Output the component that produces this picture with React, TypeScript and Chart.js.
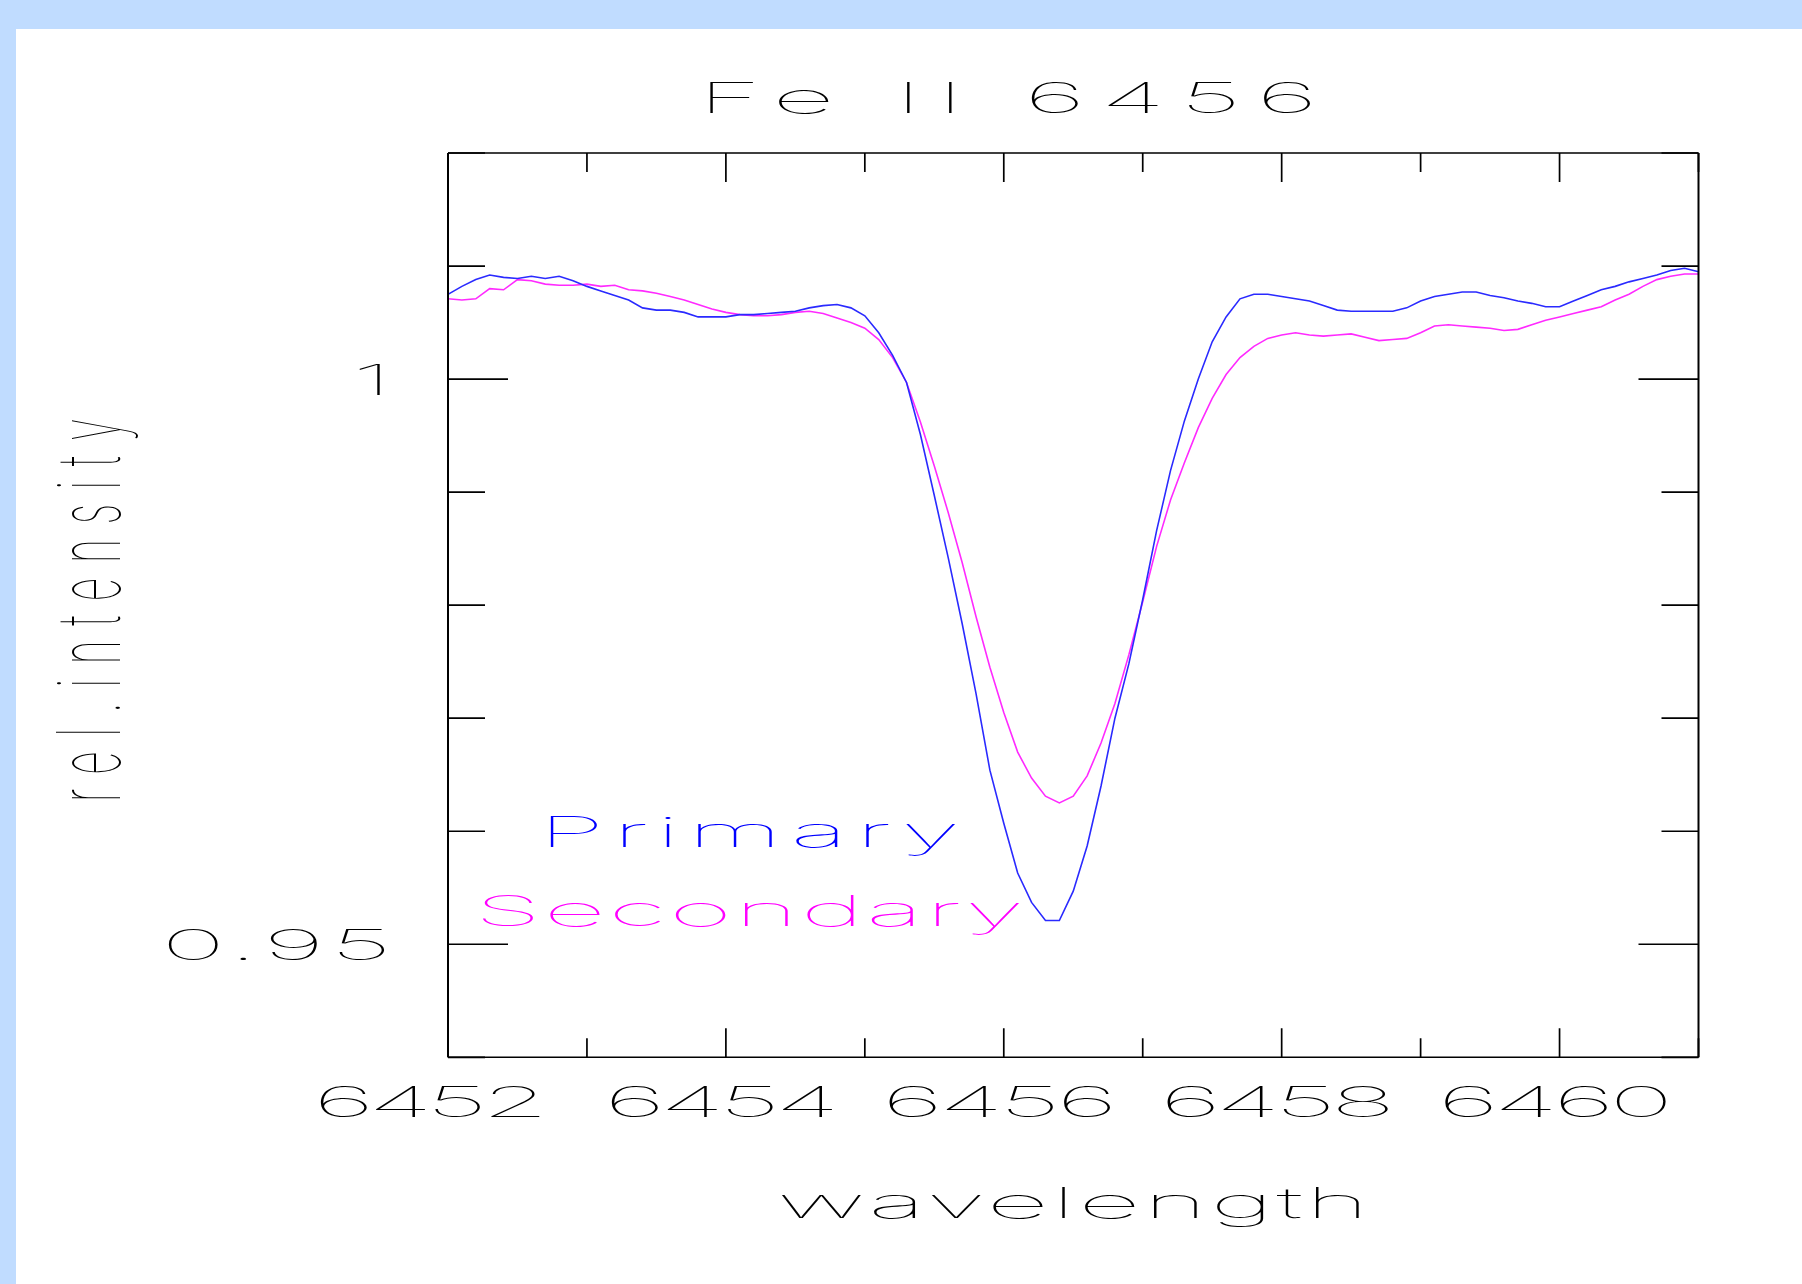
import { useEffect, useRef } from "react";
import { Chart, registerables } from "chart.js";

Chart.register(...registerables);

// ---------- data ----------
const TITLE = "Fe II 6456";
const X_TITLE = "wavelength";
const Y_TITLE = "rel.intensity";

const X_MIN = 6452;
const X_MAX = 6461;
const Y_MIN = 0.94;
const Y_MAX = 1.02;

const X_MAJOR_TICKS = [6452, 6454, 6456, 6458, 6460];
const X_MINOR_TICKS = [6453, 6455, 6457, 6459, 6461];
const Y_MAJOR_TICKS = [0.95, 1.0];
const Y_MINOR_TICKS = [0.94, 0.96, 0.97, 0.98, 0.99, 1.01, 1.02];

const X_TICK_LABELS = ["6452", "6454", "6456", "6458", "6460"];
const Y_TICK_VALUES = [1.0, 0.95];
const Y_TICK_LABELS = ["1", "0.95"];

const WAVELENGTHS = [
  6452.0, 6452.1, 6452.2, 6452.3, 6452.4, 6452.5, 6452.6, 6452.7, 6452.8, 6452.9,
  6453.0, 6453.1, 6453.2, 6453.3, 6453.4, 6453.5, 6453.6, 6453.7, 6453.8, 6453.9,
  6454.0, 6454.1, 6454.2, 6454.3, 6454.4, 6454.5, 6454.6, 6454.7, 6454.8, 6454.9,
  6455.0, 6455.1, 6455.2, 6455.3, 6455.4, 6455.5, 6455.6, 6455.7, 6455.8, 6455.9,
  6456.0, 6456.1, 6456.2, 6456.3, 6456.4, 6456.5, 6456.6, 6456.7, 6456.8, 6456.9,
  6457.0, 6457.1, 6457.2, 6457.3, 6457.4, 6457.5, 6457.6, 6457.7, 6457.8, 6457.9,
  6458.0, 6458.1, 6458.2, 6458.3, 6458.4, 6458.5, 6458.6, 6458.7, 6458.8, 6458.9,
  6459.0, 6459.1, 6459.2, 6459.3, 6459.4, 6459.5, 6459.6, 6459.7, 6459.8, 6459.9,
  6460.0, 6460.1, 6460.2, 6460.3, 6460.4, 6460.5, 6460.6, 6460.7, 6460.8, 6460.9,
  6461.0,
];

const PRIMARY = [
  1.0075, 1.0082, 1.0088, 1.0092, 1.009, 1.0089, 1.0091, 1.0089, 1.0091, 1.0087,
  1.0082, 1.0078, 1.0074, 1.007, 1.0063, 1.0061, 1.0061, 1.0059, 1.0055, 1.0055,
  1.0055, 1.0057, 1.0057, 1.0058, 1.0059, 1.006, 1.0063, 1.0065, 1.0066, 1.0063,
  1.0056, 1.0041, 1.0021, 0.9997, 0.9951, 0.9897, 0.9842, 0.9784, 0.9722, 0.9654,
  0.9607, 0.9563, 0.9537, 0.9521, 0.9521, 0.9547, 0.9587, 0.964, 0.97, 0.9748,
  0.9805, 0.9866, 0.9919, 0.9963, 1.0, 1.0033, 1.0055, 1.0071, 1.0075, 1.0075,
  1.0073, 1.0071, 1.0069, 1.0065, 1.0061, 1.006, 1.006, 1.006, 1.006, 1.0063,
  1.0069, 1.0073, 1.0075, 1.0077, 1.0077, 1.0074, 1.0072, 1.0069, 1.0067, 1.0064,
  1.0064, 1.0069, 1.0074, 1.0079, 1.0082, 1.0086, 1.0089, 1.0092, 1.0096, 1.0098,
  1.0095,
];

const SECONDARY = [
  1.0071, 1.007, 1.0071, 1.008, 1.0079, 1.0088, 1.0087, 1.0084, 1.0083, 1.0083,
  1.0084, 1.0082, 1.0083, 1.0079, 1.0078, 1.0076, 1.0073, 1.007, 1.0066, 1.0062,
  1.0059, 1.0057, 1.0056, 1.0056, 1.0057, 1.0059, 1.006, 1.0058, 1.0054, 1.005,
  1.0045, 1.0035, 1.0019, 0.9997, 0.9962, 0.9923, 0.9882, 0.9838, 0.979, 0.9745,
  0.9705, 0.967, 0.9647, 0.9631, 0.9625, 0.9631, 0.9649, 0.9678, 0.9713, 0.9756,
  0.9803, 0.9852, 0.9893, 0.9926, 0.9957, 0.9983, 1.0004, 1.0019, 1.0029, 1.0036,
  1.0039, 1.0041, 1.0039, 1.0038, 1.0039, 1.004, 1.0037, 1.0034, 1.0035, 1.0036,
  1.0041, 1.0047, 1.0048, 1.0047, 1.0046, 1.0045, 1.0043, 1.0044, 1.0048, 1.0052,
  1.0055, 1.0058, 1.0061, 1.0064, 1.007, 1.0075, 1.0082, 1.0088, 1.0091, 1.0093,
  1.0093,
];

const SERIES_NAMES = ["Primary", "Secondary"];
const SERIES_COLORS = ["#2a2aff", "#ff2aff"];
const LEGEND_COLORS = ["#0000ff", "#ff00ff"];
// legend anchor (data coordinates, centre of text baseline)
const LEGEND_X = 6454.17;
const LEGEND_Y = [0.95862, 0.9516];

// ---------- styling ----------
const SX = 2.6; // horizontal stretch of horizontal lettering
const SX_ROT = 2.1; // stretch of rotated lettering (glyph height direction)
const FONT_SIZE = 42;
const FONT = `120 ${FONT_SIZE}px Inter, "DejaVu Sans Mono", sans-serif`;

function drawText(
  ctx: CanvasRenderingContext2D,
  text: string,
  x: number,
  y: number,
  width: number,
  color: string,
  align: "left" | "center" | "right",
  rotate = false
) {
  ctx.save();
  ctx.translate(x, y);
  const sx = rotate ? SX_ROT : SX;
  ctx.scale(sx, 1);
  if (rotate) ctx.rotate(-Math.PI / 2);
  ctx.font = FONT;
  ctx.fillStyle = color;
  ctx.textBaseline = "alphabetic";
  ctx.textAlign = "left";
  (ctx as any).letterSpacing = "0px";
  const w0 = ctx.measureText(text).width;
  const n = text.length;
  let target = rotate ? width : width / sx;
  let ls = 0;
  if (n > 1) ls = (target - w0) / (n - 1);
  else target = w0;
  (ctx as any).letterSpacing = `${ls}px`;
  const startX = align === "center" ? -target / 2 : align === "right" ? -target : 0;
  ctx.fillText(text, startX, 0);
  ctx.restore();
}

const framePlugin = {
  id: "pgframe",
  afterDraw(chart: any) {
    const ctx: CanvasRenderingContext2D = chart.ctx;
    const { left, right, top, bottom } = chart.chartArea;
    const xs = chart.scales.x;
    const ys = chart.scales.y;
    ctx.save();
    ctx.strokeStyle = "#000";
    ctx.lineCap = "butt";

    // frame
    ctx.lineWidth = 2;
    ctx.beginPath();
    ctx.moveTo(left, top);
    ctx.lineTo(left, bottom);
    ctx.moveTo(right, top);
    ctx.lineTo(right, bottom);
    ctx.stroke();
    ctx.lineWidth = 1.6;
    ctx.beginPath();
    ctx.moveTo(left, top);
    ctx.lineTo(right, top);
    ctx.moveTo(left, bottom);
    ctx.lineTo(right, bottom);
    ctx.stroke();

    // x ticks (inward, top and bottom)
    ctx.lineWidth = 1.7;
    const xTick = (v: number, len: number) => {
      const px = xs.getPixelForValue(v);
      ctx.beginPath();
      ctx.moveTo(px, bottom);
      ctx.lineTo(px, bottom - len);
      ctx.moveTo(px, top);
      ctx.lineTo(px, top + len);
      ctx.stroke();
    };
    X_MAJOR_TICKS.forEach((v) => xTick(v, 29));
    X_MINOR_TICKS.forEach((v) => xTick(v, 19));

    // y ticks (inward, left and right)
    const yTick = (v: number, len: number) => {
      const py = ys.getPixelForValue(v);
      ctx.beginPath();
      ctx.moveTo(left, py);
      ctx.lineTo(left + len, py);
      ctx.moveTo(right, py);
      ctx.lineTo(right - len, py);
      ctx.stroke();
    };
    Y_MAJOR_TICKS.forEach((v) => yTick(v, 60));
    Y_MINOR_TICKS.forEach((v) => yTick(v, 37));

    // tick labels
    X_TICK_LABELS.forEach((t, i) => {
      const px = xs.getPixelForValue(X_MAJOR_TICKS[i]) - (i === 0 ? 17 : 4);
      drawText(ctx, t, px, bottom + 60, 236, "#000", "center");
    });
    Y_TICK_LABELS.forEach((t, i) => {
      const py = ys.getPixelForValue(Y_TICK_VALUES[i]);
      drawText(ctx, t, left - 56, py + 15.5, 231, "#000", "right");
    });

    // titles
    drawText(ctx, TITLE, 992, top - 40, 620, "#000", "center");
    drawText(ctx, X_TITLE, (left + right) / 2, bottom + 161, 592, "#000", "center");
    drawText(ctx, Y_TITLE, left - 328, (top + bottom) / 2 + 5, 384, "#000", "center", true);

    // legend text
    const lx = xs.getPixelForValue(LEGEND_X);
    drawText(ctx, SERIES_NAMES[0], lx, ys.getPixelForValue(LEGEND_Y[0]), 422, LEGEND_COLORS[0], "center");
    drawText(ctx, SERIES_NAMES[1], lx, ys.getPixelForValue(LEGEND_Y[1]), 550, LEGEND_COLORS[1], "center");

    ctx.restore();
  },
};

export default function App() {
  const ref = useRef<HTMLCanvasElement | null>(null);

  useEffect(() => {
    if (!ref.current) return;
    const chart = new Chart(ref.current, {
      type: "line",
      data: {
        datasets: [PRIMARY, SECONDARY].map((vals, k) => ({
          label: SERIES_NAMES[k],
          data: WAVELENGTHS.map((w, i) => ({ x: w, y: vals[i] })),
          borderColor: SERIES_COLORS[k],
          borderWidth: 1.6,
          pointRadius: 0,
          tension: 0,
          fill: false,
        })),
      },
      options: {
        animation: false,
        responsive: false,
        events: [],
        layout: { padding: { left: 432, right: 103.5, top: 124, bottom: 226.7 } },
        scales: {
          x: { type: "linear", min: X_MIN, max: X_MAX, display: false },
          y: { type: "linear", min: Y_MIN, max: Y_MAX, display: false },
        },
        plugins: {
          legend: { display: false },
          title: { display: false },
          tooltip: { enabled: false },
        },
      },
      plugins: [framePlugin],
    });
    return () => chart.destroy();
  }, []);

  return (
    <div
      style={{
        position: "fixed",
        left: 0,
        top: 0,
        width: 1802,
        height: 1284,
        background: "#c0dcff",
      }}
    >
      <div
        style={{
          position: "absolute",
          left: 16,
          top: 29,
          width: 1786,
          height: 1255,
          background: "#ffffff",
        }}
      >
        <canvas ref={ref} width={1786} height={1255} style={{ display: "block" }} />
      </div>
    </div>
  );
}
